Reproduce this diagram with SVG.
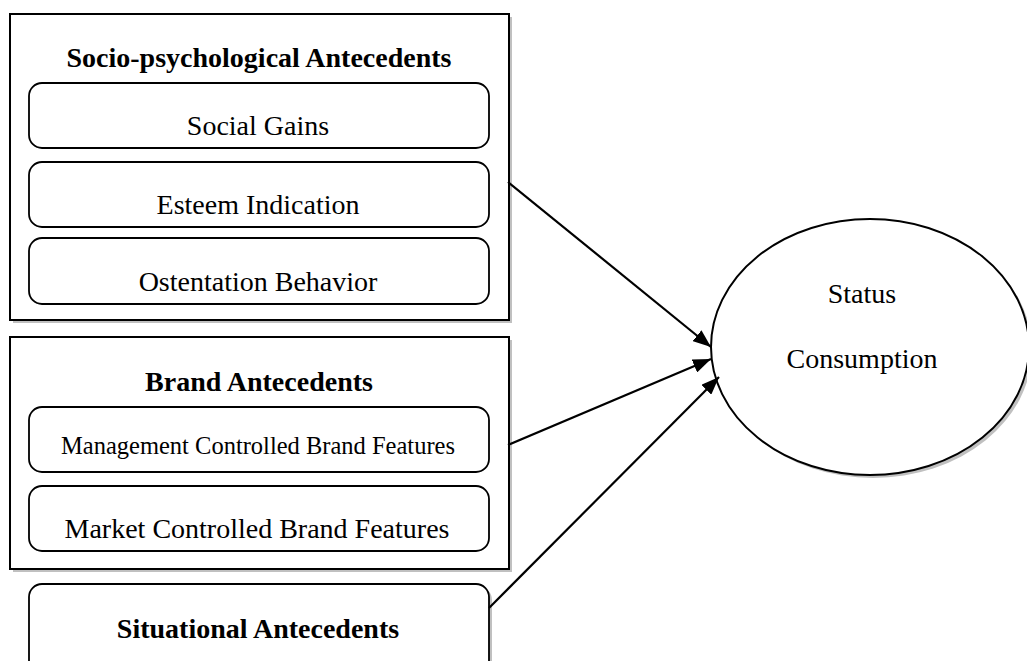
<svg xmlns="http://www.w3.org/2000/svg" width="1027" height="661" viewBox="0 0 1027 661">
  <style>
    .frame { fill: #ffffff; stroke: #000000; stroke-width: 2; }
    .shadow { fill: #c0c0c0; stroke: none; }
    .item { fill: #ffffff; stroke: #000000; stroke-width: 1.8; }
    .head { font-family: "Liberation Serif", "Times New Roman", serif; font-weight: bold; font-size: 28px; text-anchor: middle; fill: #000000; }
    .label { font-family: "Liberation Serif", "Times New Roman", serif; font-size: 28px; text-anchor: middle; fill: #000000; }
    .small { font-size: 24.5px; }
    .link { stroke: #000000; stroke-width: 2.2; fill: none; marker-end: url(#arrow); }
  </style>
  <defs>
    <marker id="arrow" viewBox="0 0 10 10" refX="10" refY="5" markerWidth="18" markerHeight="14" markerUnits="userSpaceOnUse" orient="auto" preserveAspectRatio="none">
      <path d="M0,0 L10,5 L0,10 z" fill="#000000"/>
    </marker>
    <clipPath id="cutSocial"><rect x="29" y="83" width="460" height="53"/></clipPath>
    <clipPath id="cutEsteem"><rect x="29" y="162" width="460" height="53"/></clipPath>
    <clipPath id="cutOsten"><rect x="29" y="238" width="460" height="54"/></clipPath>
    <clipPath id="cutMarket"><rect x="29" y="486" width="460" height="53"/></clipPath>
  </defs>
  <rect width="1027" height="661" fill="#ffffff"/>

  <!-- socio-psychological group -->
  <g id="socio-psychological">
    <rect class="shadow" x="13" y="17" width="499" height="306"/>
    <rect class="frame" x="10" y="14" width="499" height="306"/>
    <text class="head" x="259" y="67">Socio-psychological Antecedents</text>
  </g>
  <g id="social-gains">
    <rect class="item" x="29" y="83" width="460" height="65" rx="13"/>
    <text class="label" x="258" y="135" clip-path="url(#cutSocial)">Social Gains</text>
  </g>
  <g id="esteem-indication">
    <rect class="item" x="29" y="162" width="460" height="65" rx="13"/>
    <text class="label" x="258" y="214" clip-path="url(#cutEsteem)">Esteem Indication</text>
  </g>
  <g id="ostentation-behavior">
    <rect class="item" x="29" y="238" width="460" height="66" rx="13"/>
    <text class="label" x="258" y="291" clip-path="url(#cutOsten)">Ostentation Behavior</text>
  </g>

  <!-- brand group -->
  <g id="brand">
    <rect class="shadow" x="13" y="340" width="499" height="232"/>
    <rect class="frame" x="10" y="337" width="499" height="232"/>
    <text class="head" x="259" y="391">Brand Antecedents</text>
  </g>
  <g id="management-controlled">
    <rect class="item" x="29" y="407" width="460" height="65" rx="13"/>
    <text class="label small" x="258" y="454">Management Controlled Brand Features</text>
  </g>
  <g id="market-controlled">
    <rect class="item" x="29" y="486" width="460" height="65" rx="13"/>
    <text class="label" x="257" y="538" clip-path="url(#cutMarket)">Market Controlled Brand Features</text>
  </g>

  <!-- situational -->
  <g id="situational">
    <rect class="shadow" x="32" y="587" width="460" height="90" rx="13"/>
    <rect class="item" x="29" y="584" width="460" height="90" rx="13"/>
    <text class="head" x="258" y="638">Situational Antecedents</text>
  </g>

  <!-- outcome -->
  <g id="status-consumption">
    <ellipse cx="873" cy="350" rx="159" ry="128" fill="#c0c0c0"/>
    <ellipse cx="870" cy="347" rx="159" ry="128" fill="#ffffff" stroke="#000000" stroke-width="2"/>
    <text class="label" x="862" y="303">Status</text>
    <text class="label" x="862" y="368">Consumption</text>
  </g>

  <!-- connectors -->
  <g id="connectors">
    <line class="link" x1="508" y1="182" x2="711" y2="347"/>
    <line class="link" x1="508" y1="445" x2="711" y2="359"/>
    <line class="link" x1="489" y1="608" x2="719" y2="377"/>
  </g>
</svg>
